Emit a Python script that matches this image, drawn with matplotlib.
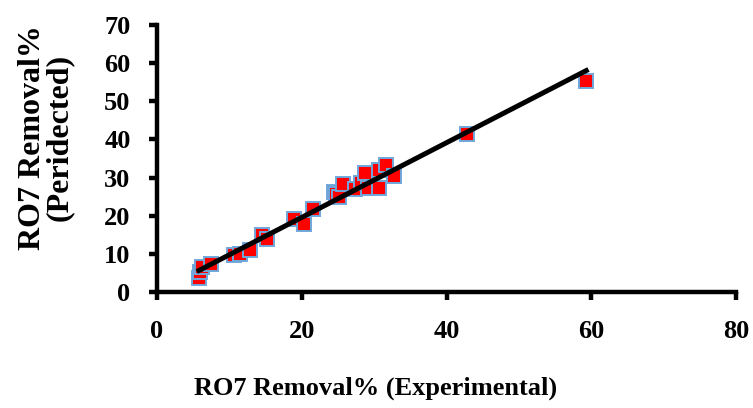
import numpy as np
import matplotlib
matplotlib.use("Agg")
import matplotlib.pyplot as plt

# values
experimental = [5.8, 5.9, 6.2, 7.5, 10.7, 11.4, 12.8, 14.5, 15.2, 18.9, 20.3, 21.5,
                24.4, 24.7, 25.2, 25.7, 27.3, 28.2, 28.7, 29.1, 30.7, 30.7, 31.7, 32.7,
                42.8, 59.3]
predicted = [3.6, 5.2, 6.6, 7.3, 9.7, 10.1, 11.0, 14.9, 13.8, 19.1, 17.8, 21.7,
             26.3, 25.8, 24.8, 28.2, 27.0, 28.5, 31.1, 27.2, 27.2, 32.0, 33.3, 30.4,
             41.3, 55.4]
x_ticks = [0, 20, 40, 60, 80]
y_ticks = [0, 10, 20, 30, 40, 50, 60, 70]

plt.rcParams['font.family'] = ['Liberation Serif', 'DejaVu Serif']
plt.rcParams['font.weight'] = 'bold'

fig = plt.figure(figsize=(7.53, 4.08), dpi=100)
ax = fig.add_axes([0.2085, 0.284, 0.769, 0.655])

x = np.array(experimental)
y = np.array(predicted)
ax.plot(x, y, linestyle='none', marker='s', markersize=10,
        markerfacecolor='#ff0000', markeredgecolor='#6fa8dc', markeredgewidth=1.4,
        zorder=2)

# linear trendline over the data range
slope, intercept = np.polyfit(x, y, 1)
xl = np.array([x.min(), x.max()])
ax.plot(xl, slope * xl + intercept, color='black', linewidth=3.6, zorder=3)

ax.set_xlim(0, 80)
ax.set_ylim(0, 70)
ax.set_xticks(x_ticks)
ax.set_yticks(y_ticks)

for side in ['top', 'right']:
    ax.spines[side].set_visible(False)
for side in ['left', 'bottom']:
    ax.spines[side].set_linewidth(3.2)
ax.tick_params(axis='both', direction='out', length=6, width=3.2, labelsize=19)
ax.tick_params(axis='x', pad=14)
ax.tick_params(axis='y', pad=13)
for lbl in ax.get_xticklabels() + ax.get_yticklabels():
    lbl.set_fontweight('bold')

ax.set_xlabel('RO7 Removal% (Experimental)', fontsize=19, fontweight='bold')
ax.xaxis.set_label_coords(0.377, -0.315)
ax.set_ylabel('RO7 Removal%\n(Peridected)', fontsize=23, fontweight='bold',
              linespacing=0.9)
ax.yaxis.set_label_coords(-0.143, 0.577)

fig.savefig('out.png', dpi=100)
